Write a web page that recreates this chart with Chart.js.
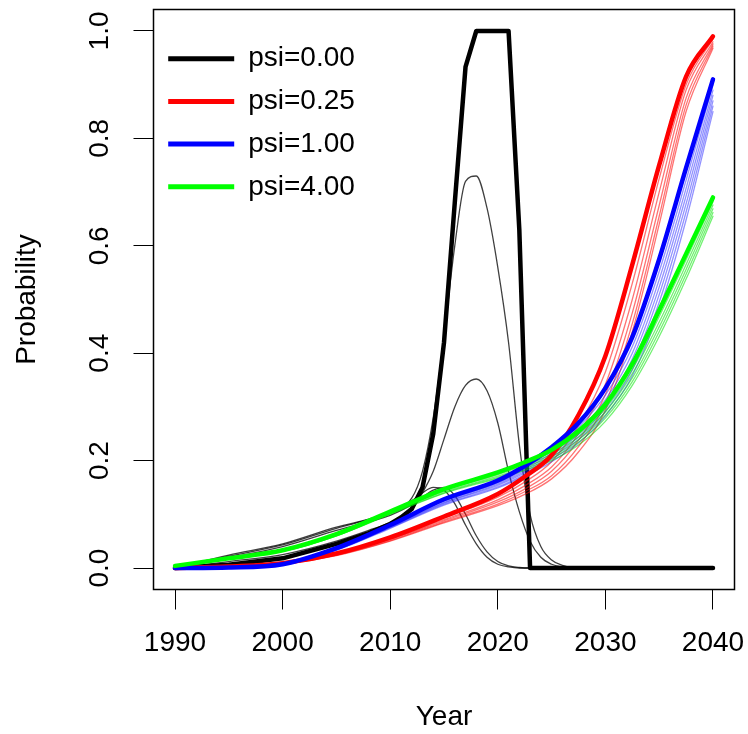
<!DOCTYPE html>
<html>
<head>
<meta charset="utf-8">
<script src="https://cdn.jsdelivr.net/npm/chart.js@4/dist/chart.umd.min.js"></script>
<style>html,body{margin:0;padding:0;background:#fff}</style>
</head>
<body>
<div style="width:748px;height:734px;position:relative"><canvas id="c"></canvas></div>
<script>
// ---- tick labels / legend ----
const YEAR_TICKS = [1990, 2000, 2010, 2020, 2030, 2040];
const PROB_TICKS = [0, 0.2, 0.4, 0.6, 0.8, 1.0];
const LEGEND_LABELS = ['psi=0.00', 'psi=0.25', 'psi=1.00', 'psi=4.00'];

// ---- psi = 0.00 (black) ----
const YEARS_B = [1990,1995,2000,2005,2008,2010,2011,2012,2013,2014,2015,2016,2017,2018,2019,2020,2021,2022,2023,2030,2040];
const PSI000_MAIN = [0,0.006,0.018,0.045,0.065,0.082,0.094,0.11,0.15,0.25,0.42,0.68,0.933,1,1,1,1,0.63,0,0,0];

const YEARS_T = [1990,1995,2000,2005,2008,2010,2012,2013,2014,2015,2016,2017,2018,2019,2020,2021,2022,2023,2024,2025,2026,2027,2028,2040];
const PSI000_SIM1 = [0,0.022,0.043,0.074,0.09,0.102,0.13,0.18,0.28,0.43,0.6,0.72,0.73,0.67,0.56,0.42,0.23,0.1,0.04,0.015,0.005,0.001,0,0];
const PSI000_SIM2 = [0,0.012,0.025,0.05,0.07,0.085,0.11,0.14,0.18,0.24,0.3,0.34,0.352,0.33,0.27,0.18,0.105,0.05,0.02,0.007,0.002,0,0,0];
const PSI000_SIM3 = [0,0.024,0.045,0.076,0.091,0.103,0.125,0.14,0.15,0.145,0.12,0.08,0.045,0.02,0.007,0.002,0,0,0,0,0,0,0,0];
const PSI000_SIM4 = [0,0.019,0.04,0.07,0.086,0.098,0.118,0.132,0.145,0.15,0.135,0.1,0.06,0.03,0.012,0.004,0.001,0,0,0,0,0,0,0];

// ---- coloured series share this year grid ----
const YEARS_C = [1990,1995,2000,2005,2010,2015,2020,2022.5,2025,2027.5,2030,2032.5,2035,2037.5,2040];

// psi = 0.25 (red)
const PSI025_MAIN = [0,0.003,0.009,0.027,0.057,0.096,0.138,0.17,0.21,0.285,0.395,0.565,0.75,0.915,0.99];
const PSI025_SIM1 = [0,0.003,0.009,0.026,0.055,0.093,0.132,0.16,0.198,0.265,0.365,0.53,0.725,0.90,0.985];
const PSI025_SIM2 = [0,0.003,0.008,0.025,0.054,0.09,0.127,0.153,0.188,0.25,0.342,0.5,0.7,0.89,0.98];
const PSI025_SIM3 = [0,0.003,0.008,0.025,0.053,0.088,0.123,0.147,0.18,0.238,0.323,0.475,0.675,0.875,0.976];
const PSI025_SIM4 = [0,0.002,0.008,0.024,0.051,0.086,0.119,0.142,0.172,0.226,0.307,0.455,0.655,0.862,0.972];
const PSI025_SIM5 = [0,0.002,0.007,0.023,0.05,0.084,0.116,0.137,0.166,0.216,0.294,0.44,0.64,0.85,0.968];

// psi = 1.00 (blue)
const PSI100_MAIN = [0,0.001,0.007,0.037,0.08,0.128,0.163,0.19,0.225,0.27,0.335,0.43,0.575,0.745,0.91];
const PSI100_SIM1 = [0,0.001,0.007,0.036,0.079,0.126,0.16,0.186,0.219,0.262,0.322,0.412,0.552,0.722,0.9];
const PSI100_SIM2 = [0,0.001,0.007,0.035,0.078,0.124,0.158,0.183,0.214,0.255,0.313,0.4,0.537,0.707,0.89];
const PSI100_SIM3 = [0,0.001,0.006,0.035,0.077,0.122,0.156,0.18,0.21,0.249,0.305,0.389,0.523,0.693,0.88];
const PSI100_SIM4 = [0,0.001,0.006,0.034,0.076,0.121,0.154,0.177,0.206,0.244,0.298,0.379,0.509,0.678,0.87];
const PSI100_SIM5 = [0,0.001,0.006,0.034,0.075,0.119,0.151,0.174,0.202,0.239,0.291,0.369,0.495,0.663,0.86];
const PSI100_SIM6 = [0,0.001,0.006,0.033,0.074,0.117,0.149,0.171,0.198,0.233,0.283,0.358,0.48,0.648,0.85];

// psi = 4.00 (green)
const PSI400_MAIN = [0.004,0.018,0.033,0.063,0.105,0.147,0.178,0.197,0.22,0.255,0.305,0.38,0.48,0.585,0.69];
const PSI400_SIM1 = [0.004,0.018,0.033,0.062,0.104,0.145,0.176,0.194,0.216,0.249,0.297,0.37,0.468,0.574,0.682];
const PSI400_SIM2 = [0.004,0.017,0.032,0.061,0.103,0.144,0.174,0.191,0.212,0.244,0.291,0.362,0.458,0.565,0.676];
const PSI400_SIM3 = [0.004,0.017,0.032,0.061,0.102,0.142,0.171,0.188,0.208,0.239,0.285,0.354,0.449,0.556,0.669];
const PSI400_SIM4 = [0.004,0.017,0.031,0.06,0.101,0.14,0.169,0.185,0.204,0.234,0.279,0.347,0.44,0.547,0.662];
const PSI400_SIM5 = [0.004,0.017,0.031,0.06,0.1,0.139,0.167,0.182,0.2,0.229,0.273,0.34,0.431,0.538,0.655];

// ---- styling ----
const FONT = "'Liberation Sans', Arial, Helvetica, sans-serif";
const COLORS = ['#000000', '#ff0000', '#0000ff', '#00ff00'];
const THIN = ['rgba(0,0,0,0.75)', 'rgba(255,0,0,0.55)', 'rgba(40,40,255,0.5)', 'rgba(0,230,0,0.55)'];

const datasets = [];
function addLine(xs, ys, color, width, order, smooth, label) {
  datasets.push({
    label: label || '',
    data: xs.map((x, i) => ({ x: x, y: ys[i] })),
    borderColor: color,
    backgroundColor: color,
    borderWidth: width,
    pointRadius: 0,
    pointHoverRadius: 0,
    fill: false,
    order: order,
    tension: 0,
    cubicInterpolationMode: smooth ? 'monotone' : 'default',
    borderCapStyle: 'round',
    borderJoinStyle: 'round'
  });
}

// black lines drawn first (underneath)
addLine(YEARS_B, PSI000_MAIN, COLORS[0], 4.5, 11, false, LEGEND_LABELS[0]);
[PSI000_SIM1, PSI000_SIM2, PSI000_SIM3, PSI000_SIM4].forEach(s => addLine(YEARS_T, s, THIN[0], 1.3, 10, true));
// thin simulation lines
[PSI025_SIM1, PSI025_SIM2, PSI025_SIM3, PSI025_SIM4, PSI025_SIM5].forEach(s => addLine(YEARS_C, s, THIN[1], 1.3, 9, true));
[PSI100_SIM1, PSI100_SIM2, PSI100_SIM3, PSI100_SIM4, PSI100_SIM5, PSI100_SIM6].forEach(s => addLine(YEARS_C, s, THIN[2], 1.3, 8, true));
[PSI400_SIM1, PSI400_SIM2, PSI400_SIM3, PSI400_SIM4, PSI400_SIM5].forEach(s => addLine(YEARS_C, s, THIN[3], 1.3, 7, true));
// thick main lines
addLine(YEARS_C, PSI025_MAIN, COLORS[1], 4.5, 6, true, LEGEND_LABELS[1]);
addLine(YEARS_C, PSI100_MAIN, COLORS[2], 4.5, 5, true, LEGEND_LABELS[2]);
addLine(YEARS_C, PSI400_MAIN, COLORS[3], 4.5, 4, true, LEGEND_LABELS[3]);

const bgPlugin = {
  id: 'bg',
  beforeDraw(chart) {
    const c = chart.ctx;
    c.save(); c.fillStyle = '#fff'; c.fillRect(0, 0, chart.width, chart.height); c.restore();
  }
};
const framePlugin = {
  id: 'frame',
  afterDraw(chart) {
    const a = chart.chartArea, c = chart.ctx;
    c.save(); c.strokeStyle = '#000'; c.lineWidth = 1.5;
    c.strokeRect(a.left, a.top, a.right - a.left, a.bottom - a.top);
    c.restore();
  }
};

const tickFont = { size: 28, family: FONT };

new Chart(document.getElementById('c'), {
  type: 'line',
  data: { datasets: datasets },
  plugins: [bgPlugin, framePlugin],
  options: {
    responsive: true,
    maintainAspectRatio: false,
    animation: false,
    events: [],
    layout: { padding: { left: 0, right: 13.5, top: 9.5, bottom: 0 } },
    scales: {
      x: {
        type: 'linear', min: 1988, max: 2042,
        afterBuildTicks: s => { s.ticks = YEAR_TICKS.map(v => ({ value: v })); },
        afterFit: s => { s.paddingLeft = 0; s.paddingRight = 0; s.height = 144.5; },
        ticks: { callback: v => String(v), font: tickFont, color: '#000', padding: 16.7, maxRotation: 0, minRotation: 0, autoSkip: false },
        grid: { display: true, drawOnChartArea: false, drawTicks: true, tickLength: 20, color: '#000', lineWidth: 1 },
        border: { display: true, color: '#000', width: 1 },
        title: { display: true, text: 'Year', font: tickFont, color: '#000', padding: { top: 23.3, bottom: 0 } }
      },
      y: {
        type: 'linear', min: -0.04, max: 1.04,
        afterBuildTicks: s => { s.ticks = PROB_TICKS.map(v => ({ value: v })); },
        afterFit: s => { s.paddingTop = 0; s.paddingBottom = 0; s.width = 153.5; },
        ticks: { callback: v => Number(v).toFixed(1), font: tickFont, color: '#000', padding: 14, minRotation: 90, maxRotation: 90, crossAlign: 'center', autoSkip: false },
        grid: { display: true, drawOnChartArea: false, drawTicks: true, tickLength: 20, color: '#000', lineWidth: 1 },
        border: { display: true, color: '#000', width: 1 },
        title: { display: true, text: 'Probability', font: tickFont, color: '#000', padding: { top: 10.2, bottom: 0 } }
      }
    },
    plugins: {
      tooltip: { enabled: false },
      legend: {
        position: 'chartArea',
        align: 'start',
        onClick: null,
        title: { display: true, text: '', padding: { top: 29, bottom: 0 }, font: { size: 1, lineHeight: 1 } },
        labels: {
          boxWidth: 66,
          boxHeight: 5,
          padding: 14.7,
          color: '#000',
          font: { size: 28, family: FONT },
          generateLabels: () => LEGEND_LABELS.map((t, i) => ({
            text: t, fillStyle: COLORS[i], strokeStyle: COLORS[i], lineWidth: 0,
            hidden: false, fontColor: '#000', datasetIndex: 0
          }))
        }
      }
    }
  }
});
</script>
</body>
</html>
